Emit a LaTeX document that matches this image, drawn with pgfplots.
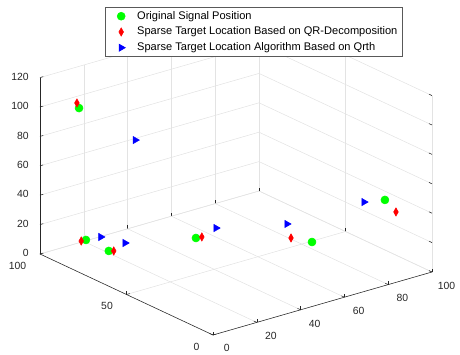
\documentclass[border=0pt]{standalone}
\usepackage{pgfplots}
\pgfplotsset{compat=1.18}
\usepackage{fontspec}
\setmainfont{Liberation Sans}
\definecolor{axgray}{RGB}{38,38,38}
\definecolor{mgreen}{RGB}{0,255,0}
\definecolor{mred}{RGB}{255,0,0}
\definecolor{mblue}{RGB}{0,0,255}
\pgfplotsset{mylegend/.style={legend image code/.code={%
  \path[draw=none] (0pt,0pt) -- (20pt,0pt);
  \path[##1, draw=none] plot coordinates {(10pt,0pt)};}}}
\begin{document}
\begin{tikzpicture}
\begin{axis}[
  x={(1.6425pt,0.4725pt)}, y={(-1.2975pt,0.6075pt)}, z={(0pt,1.1025pt)},
  xmin=0,xmax=100,ymin=0,ymax=100,zmin=0,zmax=120,
  xtick={0,20,...,100}, ytick={0,50,100}, ztick={0,20,...,120},
  grid=major,
  major grid style={gray!22, line width=0.4pt},
  axis line style={draw=none},
  tick pos=left,
  major tick length=2.5pt,
  tick style={axgray, line width=0.4pt},
  tick label style={font=\fontsize{7.8}{8}\selectfont, text=axgray},
  xticklabel style={xshift=6pt, yshift=-3pt},
  yticklabel style={anchor=north east, xshift=-6.75pt, yshift=-2.5pt},
  zticklabel style={xshift=-5pt},
  /pgf/number format/assume math mode=true,
  clip=false,
  legend style={at={(axis cs:97.7,100,126.2)}, anchor=north,
    font=\fontsize{8.3}{8.8}\selectfont, draw=gray!70!black, line width=0.4pt,
    inner xsep=2pt, inner ysep=1pt, row sep=0.3pt},
  legend cell align=left,
]
\addplot3[only marks, mark=*, mark size=3pt, color=mgreen, mylegend] coordinates {
 (10.4,90.6,100) (12.6,89.4,10) (21.3,87.2,0) (44.9,66.7,10) (75.3,38.1,10) (94.7,20.5,40)};
\addlegendentry{Original Signal Position}
\addplot3[only marks, mark=diamond*, mark size=3.1pt, mark options={xscale=0.75}, color=mred, mylegend] coordinates {
 (11.1,92.7,102) (10.6,89.6,10) (22.7,86.1,0) (47.2,66.2,10) (71.8,45.8,10) (95.0,14.5,35)};
\addlegendentry{Sparse Target Location Based on QR-Decomposition}
\addplot3[only marks, mark=triangle*, mark size=3.1pt, mark options={rotate=-90}, color=mblue, mylegend] coordinates {
 (33.6,87.5,70) (18.6,88.4,10) (30.7,89.7,0) (56.6,69.9,10) (79.1,57.4,10) (87.5,23.5,40)};
\addlegendentry{Sparse Target Location Algorithm Based on Qrth}
\draw[axgray, line width=0.4pt] (axis cs:0,0,0) -- (axis cs:100,0,0);
\draw[axgray, line width=0.4pt] (axis cs:0,0,0) -- (axis cs:0,100,0);
\draw[axgray, line width=0.4pt] (axis cs:0,100,0) -- (axis cs:0,100,120);
\coordinate (O) at (axis cs:0,0,0);
\end{axis}
\pgfresetboundingbox
\path[use as bounding box] (O) ++(-159.75pt,-14.25pt) rectangle ++(345pt,265.5pt);
\end{tikzpicture}
\end{document}
